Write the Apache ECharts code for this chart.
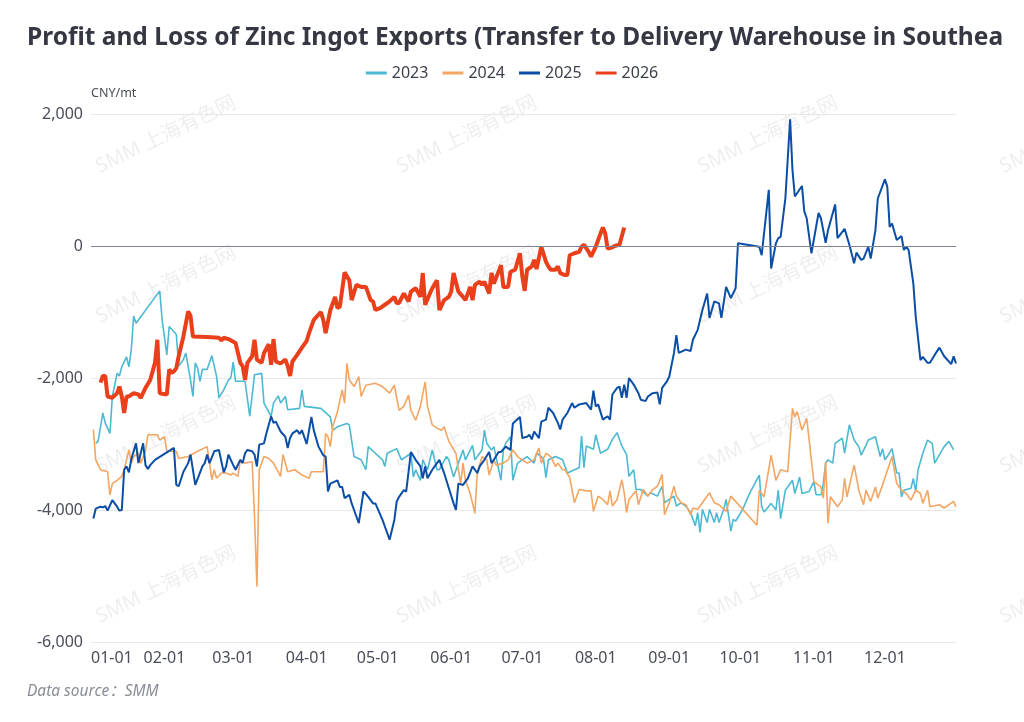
<!DOCTYPE html>
<html>
<head>
<meta charset="utf-8">
<script src="https://cdn.jsdelivr.net/npm/echarts@6/dist/echarts.min.js"></script>
<style>
  html, body { margin: 0; padding: 0; background: #fff; }
  #main { width: 1024px; height: 722px; }
</style>
</head>
<body>
<div id="main"></div>
<script>
// x positions are day of year, 0 = 01-01 (leap-year calendar, 02-29 included)
var days2023 = [2,3,5,6,8,9,11,12,13,15,16,17,18,19,29,30,32,33,36,37,39,40,42,43,44,45,46,47,49,51,53,54,56,58,59,60,61,65,67,69,72,73,76,77,79,80,82,83,88,89,90,97,101,102,104,108,109,111,114,116,117,120,123,124,125,129,131,135,136,137,139,140,142,143,144,146,147,150,151,153,155,157,158,161,162,165,166,167,169,170,173,174,175,177,178,180,182,184,187,188,190,191,192,193,196,199,201,204,206,207,208,209,212,213,215,218,220,222,224,226,227,229,230,232,235,236,239,241,242,244,246,247,249,251,253,255,256,257,258,260,261,263,264,265,267,268,270,271,272,275,278,282,283,284,287,289,290,291,293,296,297,299,300,303,305,306,308,309,310,311,313,314,317,318,320,322,324,325,327,328,331,333,334,335,336,338,340,341,342,343,346,347,348,349,351,353,355,356,360,362,364];
var vals2023 = [-2990,-2960,-2530,-2680,-2840,-2280,-1930,-1970,-1830,-1680,-1830,-1570,-1060,-1170,-680,-1110,-1650,-1220,-1340,-1820,-1720,-1620,-2030,-2280,-1770,-1850,-2050,-1870,-1870,-1660,-1980,-2300,-2180,-2030,-2000,-1760,-2050,-2050,-2580,-1950,-1930,-2380,-2580,-2380,-2270,-2380,-2280,-2480,-2460,-2180,-2430,-2460,-2590,-2790,-2740,-2690,-2710,-3190,-3240,-3390,-3040,-3140,-3240,-3340,-3140,-3070,-3240,-3140,-3500,-3390,-3550,-3240,-3390,-3240,-3090,-3390,-3390,-3190,-3240,-3500,-3290,-3090,-3240,-3020,-3240,-3090,-2790,-2990,-3090,-3040,-3550,-3090,-2990,-2890,-3550,-3290,-3240,-3190,-3290,-3140,-3190,-3240,-3510,-3240,-3190,-3240,-3440,-3390,-3360,-2880,-3360,-3030,-3080,-2860,-3140,-3080,-2930,-2830,-3030,-3160,-3490,-3390,-3690,-3690,-3790,-3740,-3790,-3640,-3890,-3840,-3790,-3940,-3890,-3940,-4040,-4240,-4040,-4340,-3990,-4190,-3990,-4190,-4040,-4190,-3990,-3840,-4320,-4140,-4170,-3990,-3740,-3470,-3950,-4030,-3900,-4000,-3700,-4130,-3700,-3550,-3750,-3500,-3750,-3720,-3570,-3770,-3770,-3600,-3290,-3240,-3290,-2990,-2910,-3140,-2710,-2940,-3040,-3170,-3020,-2940,-2890,-3190,-3070,-3240,-3190,-3070,-3440,-3440,-3800,-3700,-3670,-3520,-3720,-3390,-3140,-2940,-2990,-3290,-3040,-2960,-3090];

var days2024 = [1,2,4,7,8,9,11,13,14,16,17,18,20,21,23,24,28,29,31,32,36,37,41,45,49,51,52,53,55,57,59,60,62,63,65,68,69,70,71,73,75,77,80,81,83,86,89,92,93,98,99,100,101,102,104,106,107,108,109,111,113,114,116,120,123,126,128,130,132,134,135,137,139,141,142,144,146,148,149,151,154,155,156,157,158,160,162,163,165,167,168,170,171,174,176,178,180,182,184,187,189,190,192,194,196,197,199,200,202,204,206,209,211,212,214,216,218,219,220,222,224,225,226,227,230,231,233,235,237,239,241,242,244,246,247,249,251,253,254,256,258,261,263,265,268,270,281,282,284,287,289,291,294,296,297,298,300,302,305,308,309,310,311,312,315,317,318,319,322,324,326,327,329,331,332,334,338,340,342,344,346,348,350,351,353,354,358,360,364,365];
var vals2024 = [-2780,-3240,-3390,-3420,-3770,-3600,-3550,-3490,-3390,-3090,-3290,-3190,-3140,-3290,-3110,-2860,-2860,-2940,-2890,-3110,-3110,-3220,-3190,-3110,-3040,-3540,-3390,-3520,-3440,-3440,-3470,-3440,-3490,-3240,-3290,-3270,-4100,-5160,-3390,-3190,-3220,-3290,-3490,-3160,-3420,-3390,-3470,-3520,-3420,-3420,-2840,-2890,-3040,-2740,-2510,-2180,-2380,-1780,-2030,-2130,-1980,-2280,-2110,-2080,-2130,-2230,-2110,-2490,-2430,-2260,-2490,-2640,-2430,-2060,-2430,-2710,-2760,-2790,-2740,-2960,-3140,-3390,-3600,-3290,-3550,-3750,-4050,-3440,-3190,-3240,-3470,-3240,-3320,-3290,-3240,-3090,-3190,-3240,-3290,-3240,-3060,-3290,-3140,-3190,-3340,-3290,-3390,-3390,-3510,-3890,-3690,-3710,-3710,-4020,-3790,-3840,-3920,-3710,-3940,-3840,-3540,-3740,-4040,-3840,-3710,-3920,-3690,-3790,-3690,-3640,-3460,-4070,-3890,-3640,-3790,-3890,-3920,-4070,-3970,-3990,-3890,-3740,-3890,-3920,-4020,-3790,-4230,-3700,-3800,-3170,-3550,-3390,-3420,-2460,-2590,-2510,-2790,-2610,-3570,-3650,-3820,-3270,-4200,-3800,-3950,-3850,-3520,-3800,-3320,-3700,-3920,-3700,-3870,-3650,-3820,-3620,-3190,-3600,-3700,-3750,-3850,-3700,-3750,-3900,-3700,-3950,-3920,-3970,-3870,-3950];

var days2025 = [1,2,4,5,6,7,9,11,12,13,14,15,16,17,19,20,22,23,24,25,27,31,35,36,37,39,41,42,44,47,48,49,50,52,54,56,57,58,60,61,63,64,65,66,68,69,70,71,73,74,76,77,78,80,82,83,84,85,87,88,89,91,93,94,96,98,99,100,101,104,105,106,107,109,110,111,113,115,117,119,120,123,124,126,128,129,130,132,133,135,137,139,140,141,142,144,145,147,149,151,153,154,155,157,159,161,163,164,166,168,169,170,172,173,175,177,178,181,182,184,185,186,187,189,190,192,193,195,197,198,199,201,203,204,206,209,211,212,213,214,216,218,219,220,222,223,224,225,226,227,229,231,232,234,235,237,239,240,241,243,244,246,247,248,251,253,254,256,258,260,261,263,265,266,268,270,272,273,282,283,286,287,289,290,291,293,295,296,297,300,301,302,304,307,308,310,311,314,315,318,320,322,323,325,326,328,329,331,332,335,336,337,338,340,342,343,344,345,347,348,350,351,353,354,356,358,360,363,364,365];
var vals2025 = [-4130,-3980,-3950,-3960,-3940,-4010,-3850,-3950,-4010,-4000,-3390,-3340,-3430,-3230,-2990,-3290,-2990,-3320,-3380,-3320,-3240,-3150,-3060,-3620,-3640,-3420,-3290,-3160,-3620,-3340,-3290,-3160,-3290,-3110,-3090,-3430,-3340,-3160,-3320,-3390,-3240,-3290,-3140,-3090,-3110,-3160,-3340,-3010,-2990,-2840,-2580,-2680,-2660,-2810,-2890,-3060,-2910,-2840,-2790,-2850,-2790,-3000,-2590,-2790,-3040,-3170,-3190,-3720,-3600,-3550,-3650,-3650,-3820,-3770,-3900,-4000,-4200,-3720,-3800,-3900,-3900,-4150,-4250,-4450,-4150,-3870,-3800,-3700,-3720,-3120,-3240,-3340,-3520,-3340,-3520,-3390,-3340,-3240,-3440,-3670,-3900,-4000,-3600,-3620,-3520,-3340,-3440,-3340,-3240,-3120,-3290,-3240,-3120,-3120,-3040,-3090,-2690,-2590,-2910,-2890,-2860,-2930,-2810,-2910,-2660,-2630,-2450,-2530,-2680,-2780,-2630,-2530,-2380,-2450,-2400,-2380,-2480,-2190,-2430,-2400,-2630,-2580,-2630,-2250,-2150,-2130,-2300,-2100,-2300,-2000,-2100,-2230,-2330,-2350,-2280,-2230,-2220,-2400,-2150,-2050,-1980,-1620,-1350,-1620,-1570,-1590,-1420,-1270,-970,-720,-1090,-840,-870,-1090,-620,-790,-640,40,-10,-140,850,-340,40,120,140,720,1920,1150,750,910,520,420,-110,500,420,50,240,630,120,260,20,-260,-100,-210,-190,-10,-190,240,720,1010,900,290,340,90,150,-60,-10,-60,-570,-1070,-1730,-1680,-1770,-1770,-1650,-1540,-1670,-1790,-1670,-1780];

var days2026 = [4,5,6,7,9,11,12,13,14,15,16,18,20,21,23,25,27,28,29,30,32,33,34,35,36,37,39,41,42,43,49,54,55,56,58,61,63,64,65,66,68,69,70,72,73,75,76,77,78,80,82,83,84,85,87,89,91,92,94,97,98,99,101,103,104,105,107,109,110,112,114,116,118,119,120,122,124,126,128,129,130,132,134,135,137,139,140,141,143,144,146,147,149,151,152,153,155,157,158,160,161,162,164,165,166,168,169,170,173,174,176,177,179,181,182,183,184,186,187,188,190,192,193,194,196,197,198,200,201,202,204,206,207,208,210,211,213,215,216,217,218,220,221,223,225];
var vals2026 = [-2070,-1970,-1970,-2280,-2300,-2230,-2130,-2280,-2530,-2280,-2280,-2230,-2250,-2300,-2150,-2030,-1770,-1420,-2230,-2240,-2250,-1870,-1920,-1900,-1850,-1670,-1370,-990,-1060,-1370,-1380,-1390,-1430,-1390,-1410,-1470,-1770,-1820,-2030,-1770,-1670,-1420,-1720,-1770,-1620,-1490,-1800,-1410,-1750,-1780,-1720,-1820,-1970,-1750,-1650,-1540,-1440,-1320,-1120,-1000,-1120,-1320,-970,-770,-940,-920,-400,-520,-820,-590,-620,-620,-820,-840,-970,-940,-890,-840,-770,-870,-860,-720,-840,-690,-640,-770,-410,-890,-720,-640,-520,-970,-820,-770,-690,-410,-690,-770,-820,-620,-820,-590,-540,-590,-540,-720,-410,-570,-290,-620,-620,-390,-360,-110,-460,-680,-360,-310,-210,-350,-10,-240,-310,-360,-360,-310,-410,-440,-440,-140,-110,-90,-10,20,-90,-160,-10,190,280,190,-40,-20,0,20,280];

var seriesNames = ['2023', '2024', '2025', '2026'];
var seriesColors = ['#4cb9d2', '#f3a562', '#0b4ea6', '#ea3f1b'];
var yTicks = [-6000, -4000, -2000, 0, 2000];

// category axis: every day MM-DD over a leap year
var categories = [];
for (var i = 0; i < 366; i++) {
  var d = new Date(Date.UTC(2024, 0, 1 + i));
  var mm = String(d.getUTCMonth() + 1).padStart(2, '0');
  var dd = String(d.getUTCDate()).padStart(2, '0');
  categories.push(mm + '-' + dd);
}

function pairs(days, vals) {
  var out = [];
  days.forEach(function (d, i) { out.push([categories[d], vals[i]]); });
  return out;
}

var font = 'Noto Sans, Noto Sans CJK SC, sans-serif';

// watermark grid
var marks = [];
[166, 467, 768, 1070].forEach(function (x) {
  [135, 285, 435, 585].forEach(function (y) {
    marks.push({
      type: 'text', x: x, y: y, rotation: Math.PI / 7, z: 0, silent: true,
      style: { text: 'SMM 上海有色网', fontSize: 20, fill: 'rgba(0,0,0,0.07)', align: 'center', verticalAlign: 'middle', fontFamily: font }
    });
  });
});
marks.push({
  type: 'text', left: 27, top: 684, z: 10,
  style: { text: 'Data source：SMM', fontSize: 15.5, fontStyle: 'italic', fill: '#8a8d96', fontFamily: font }
});

var chartDom = document.getElementById('main');
var myChart = echarts.init(chartDom);
var option;

option = {
  animation: false,
  textStyle: { fontFamily: font },
  title: {
    text: 'Profit and Loss of Zinc Ingot Exports (Transfer to Delivery Warehouse in Southeast Asia)',
    left: 22,
    top: 21,
    textStyle: { fontSize: 24.5, fontWeight: 'bold', color: '#353843', width: 980, overflow: 'truncate', ellipsis: '' }
  },
  legend: {
    top: 60,
    left: 'center',
    icon: 'rect',
    itemWidth: 21,
    itemHeight: 3,
    itemGap: 14,
    textStyle: { fontSize: 16, color: '#3c3f4c' },
    data: seriesNames
  },
  grid: { left: 91, right: 68, top: 114, bottom: 80, containLabel: false },
  xAxis: {
    type: 'category',
    data: categories,
    boundaryGap: false,
    axisLine: { show: false },
    axisTick: { show: false },
    splitLine: { show: false },
    axisLabel: {
      fontSize: 16,
      color: '#4a4d59',
      margin: 8,
      alignMinLabel: 'left',
      interval: function (index, value) { return value.slice(3) === '01'; }
    }
  },
  yAxis: {
    type: 'value',
    min: yTicks[0],
    max: yTicks[yTicks.length - 1],
    interval: 2000,
    name: 'CNY/mt',
    nameGap: 14,
    nameTextStyle: { fontSize: 12.5, color: '#4a4d59', align: 'left' },
    axisLine: { show: false },
    axisTick: { show: false },
    axisLabel: {
      fontSize: 16,
      color: '#4a4d59',
      margin: 8,
      formatter: function (v) { return echarts.format.addCommas(v); }
    },
    splitLine: { lineStyle: { color: '#e8e8ea', width: 1 } }
  },
  graphic: marks,
  series: [
    {
      name: seriesNames[0], type: 'line', symbol: 'none', data: pairs(days2023, vals2023),
      lineStyle: { width: 1.6, color: seriesColors[0] }, itemStyle: { color: seriesColors[0] },
      markLine: {
        silent: true, symbol: 'none', label: { show: false },
        lineStyle: { color: '#7f8494', type: 'solid', width: 1 },
        data: [{ yAxis: 0 }]
      }
    },
    {
      name: seriesNames[1], type: 'line', symbol: 'none', data: pairs(days2024, vals2024),
      lineStyle: { width: 1.6, color: seriesColors[1] }, itemStyle: { color: seriesColors[1] }
    },
    {
      name: seriesNames[2], type: 'line', symbol: 'none', data: pairs(days2025, vals2025),
      lineStyle: { width: 2, color: seriesColors[2] }, itemStyle: { color: seriesColors[2] }
    },
    {
      name: seriesNames[3], type: 'line', symbol: 'none', data: pairs(days2026, vals2026),
      lineStyle: { width: 4, color: seriesColors[3] }, itemStyle: { color: seriesColors[3] }
    }
  ]
};

myChart.setOption(option);
</script>
</body>
</html>
